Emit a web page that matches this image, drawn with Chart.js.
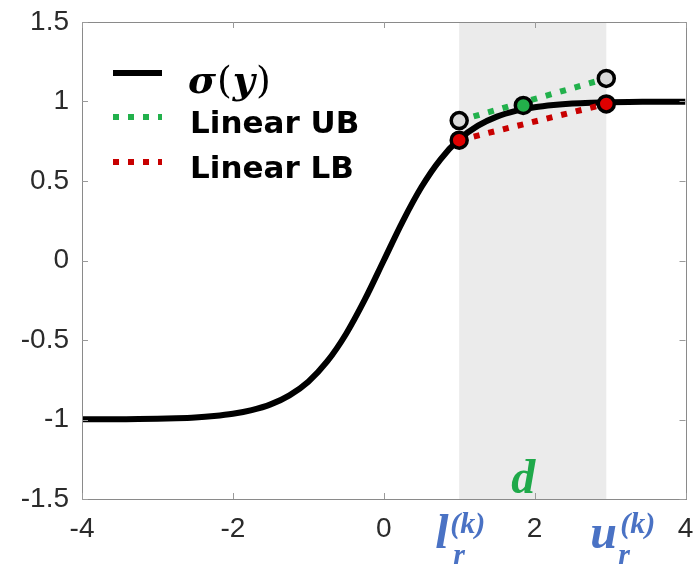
<!DOCTYPE html>
<html>
<head>
<meta charset="utf-8">
<script src="https://cdn.jsdelivr.net/npm/chart.js@4/dist/chart.umd.min.js"></script>
<style>
  html, body { margin: 0; padding: 0; background: #fff; }
  #wrap { width: 697px; height: 569px; }
</style>
</head>
<body>
<div id="wrap"><canvas id="c" width="697" height="569"></canvas></div>
<script>
// ---- data ----
const curveX = [-4, -3.75, -3.5, -3.25, -3, -2.75, -2.5, -2.25, -2, -1.75, -1.5, -1.25, -1, -0.75, -0.5, -0.25,
                0, 0.25, 0.5, 0.75, 1, 1.25, 1.5, 1.75, 2, 2.25, 2.5, 2.75, 3, 3.25, 3.5, 3.75, 4];
const curveY = [-0.999, -0.999, -0.998, -0.997, -0.995, -0.992, -0.987, -0.978, -0.964, -0.941, -0.905, -0.848, -0.762, -0.635, -0.462, -0.245,
                0, 0.245, 0.462, 0.635, 0.762, 0.848, 0.905, 0.941, 0.964, 0.978, 0.987, 0.992, 0.995, 0.997, 0.998, 0.999, 0.999];
const boundX = [1, 2.95];
const ubY = [0.88, 1.145];
const lbY = [0.757, 0.985];
const tangentX = [1.85];
const tangentY = [0.975];
const shadeRange = [1, 2.95];
const xTickValues = [-4, -2, 0, 2, 4];
const xTickLabels = ['-4', '-2', '0', '2', '4'];
const yTickValues = [-1.5, -1, -0.5, 0, 0.5, 1, 1.5];
const yTickLabels = ['-1.5', '-1', '-0.5', '0', '0.5', '1', '1.5'];
const legendLabels = ['σ(y)', 'Linear UB', 'Linear LB'];
const regionLabels = ['l', 'u'];
const regionSup = '(k)';
const regionSub = 'r';
const tangentLabel = 'd';

const BLACK = '#000000', GREEN = '#22b14c', RED = '#c80000', GRAYC = '#d9d9d9', BLUE = '#4a72c4';

const curveData = curveX.map((x, i) => ({ x: x, y: curveY[i] }));
const ubData = boundX.map((x, i) => ({ x: x, y: ubY[i] }));
const lbData = boundX.map((x, i) => ({ x: x, y: lbY[i] }));
const circleData = [
  { x: boundX[0], y: lbY[0] }, { x: boundX[1], y: lbY[1] },
  { x: boundX[0], y: ubY[0] }, { x: boundX[1], y: ubY[1] },
  { x: tangentX[0], y: tangentY[0] }
];
const circleFill = ['#e00000', '#e00000', GRAYC, GRAYC, '#23b04a'];

const shadePlugin = {
  id: 'shade',
  beforeDatasetsDraw(chart) {
    const { ctx, chartArea, scales } = chart;
    const x0 = scales.x.getPixelForValue(shadeRange[0]);
    const x1 = scales.x.getPixelForValue(shadeRange[1]);
    ctx.save();
    ctx.fillStyle = '#ebebeb';
    ctx.fillRect(x0, chartArea.top, x1 - x0, chartArea.bottom - chartArea.top);
    ctx.restore();
  }
};

const framePlugin = {
  id: 'frame',
  afterDraw(chart) {
    const { ctx, chartArea: a, scales } = chart;
    ctx.save();
    ctx.strokeStyle = '#8a8a8a';
    ctx.lineWidth = 1;
    ctx.strokeRect(Math.round(a.left) + 0.5, Math.round(a.top) + 0.5, Math.round(a.right - a.left), Math.round(a.bottom - a.top));
    ctx.strokeStyle = '#9a9a9a';
    ctx.beginPath();
    const tl = 6;
    xTickValues.forEach(v => {
      const px = Math.round(scales.x.getPixelForValue(v)) + 0.5;
      ctx.moveTo(px, a.bottom); ctx.lineTo(px, a.bottom - tl);
      ctx.moveTo(px, a.top); ctx.lineTo(px, a.top + tl);
    });
    yTickValues.forEach(v => {
      const py = Math.round(scales.y.getPixelForValue(v)) + 0.5;
      ctx.moveTo(a.left, py); ctx.lineTo(a.left + tl, py);
      ctx.moveTo(a.right, py); ctx.lineTo(a.right - tl, py);
    });
    ctx.stroke();

    // legend
    const lx0 = a.left + 31, lx1 = a.left + 80, tx = a.left + 108;
    const rows = [
      { y: a.top + 51, color: BLACK, dash: [] },
      { y: a.top + 95, color: GREEN, dash: [6, 9] },
      { y: a.top + 140, color: RED, dash: [6, 9] }
    ];
    rows.forEach((r, i) => {
      ctx.save();
      ctx.strokeStyle = r.color;
      ctx.lineWidth = 6;
      ctx.lineCap = 'butt';
      ctx.setLineDash(r.dash);
      ctx.beginPath();
      ctx.moveTo(lx0, r.y); ctx.lineTo(lx1, r.y);
      ctx.stroke();
      ctx.restore();
      ctx.fillStyle = '#000';
      ctx.textBaseline = 'alphabetic';
      ctx.textAlign = 'left';
      if (i === 0) {
        const lab = legendLabels[0];
        const parts = [
          { t: lab[0], f: 'bold italic 38px "DejaVu Serif"' },
          { t: lab[1], f: '38px "DejaVu Serif"' },
          { t: lab[2], f: 'bold italic 38px "DejaVu Serif"' },
          { t: lab[3], f: '38px "DejaVu Serif"' }
        ];
        let x = tx - 2;
        parts.forEach(p => { ctx.font = p.f; ctx.fillText(p.t, x, r.y + 20); x += ctx.measureText(p.t).width + 1; });
      } else {
        ctx.font = 'bold 31px "DejaVu Sans"';
        ctx.fillText(legendLabels[i], tx, r.y + 16);
      }
    });

    // region labels
    const drawRegion = (letter, xv, dx) => {
      const px = scales.x.getPixelForValue(xv);
      ctx.fillStyle = BLUE;
      ctx.textAlign = 'left';
      ctx.font = 'bold italic 48px "Liberation Serif"';
      ctx.fillText(letter, px + dx.main, 548);
      ctx.font = 'bold italic 30px "Liberation Serif"';
      ctx.fillText(regionSup, px + dx.sup, 533);
      ctx.fillText(regionSub, px + dx.sub, 564);
    };
    drawRegion(regionLabels[0], boundX[0], { main: -24, sup: -9, sub: -6 });
    drawRegion(regionLabels[1], boundX[1], { main: -16, sup: 14, sub: 12 });

    ctx.fillStyle = '#1fa94a';
    ctx.textAlign = 'center';
    ctx.font = 'bold italic 48px "Liberation Serif"';
    ctx.fillText(tangentLabel, scales.x.getPixelForValue(tangentX[0]), a.bottom - 6);
    ctx.restore();
  }
};

Chart.defaults.font.family = '"Liberation Sans", Arial, sans-serif';

new Chart(document.getElementById('c'), {
  type: 'scatter',
  data: {
    datasets: [
      {
        label: 'points', data: circleData, showLine: false,
        pointRadius: 8, pointHoverRadius: 8, pointBorderWidth: 3.5,
        pointBackgroundColor: circleFill, pointBorderColor: '#000'
      },
      {
        label: legendLabels[1], data: ubData, showLine: true, pointRadius: 0,
        borderColor: GREEN, borderWidth: 6, borderDash: [6, 9], borderCapStyle: 'butt'
      },
      {
        label: legendLabels[2], data: lbData, showLine: true, pointRadius: 0,
        borderColor: RED, borderWidth: 6, borderDash: [6, 9], borderCapStyle: 'butt'
      },
      {
        label: legendLabels[0], data: curveData, showLine: true, pointRadius: 0,
        borderColor: BLACK, borderWidth: 6, cubicInterpolationMode: 'monotone'
      }
    ]
  },
  options: {
    responsive: false,
    animation: false,
    layout: { padding: { top: 22, right: 10, left: 0, bottom: 0 } },
    plugins: { legend: { display: false }, tooltip: { enabled: false } },
    scales: {
      x: {
        type: 'linear', min: -4, max: 4,
        afterBuildTicks: s => { s.ticks = xTickValues.map(v => ({ value: v })); },
        afterFit: s => { s.height = 70; s.paddingLeft = 0; s.paddingRight = 0; },
        grid: { display: false, drawTicks: false },
        border: { display: false },
        ticks: {
          callback: (v, i) => xTickLabels[i],
          color: '#2b2b2b', font: { size: 28 }, padding: 13, maxRotation: 0, autoSkip: false
        }
      },
      y: {
        type: 'linear', min: -1.5, max: 1.5,
        afterBuildTicks: s => { s.ticks = yTickValues.map(v => ({ value: v })); },
        afterFit: s => { s.width = 82; s.paddingTop = 0; s.paddingBottom = 0; },
        grid: { display: false, drawTicks: false },
        border: { display: false },
        ticks: {
          callback: (v, i) => yTickLabels[i],
          color: '#2b2b2b', font: { size: 28 }, padding: 13, autoSkip: false
        }
      }
    }
  },
  plugins: [shadePlugin, framePlugin]
});
</script>
</body>
</html>
